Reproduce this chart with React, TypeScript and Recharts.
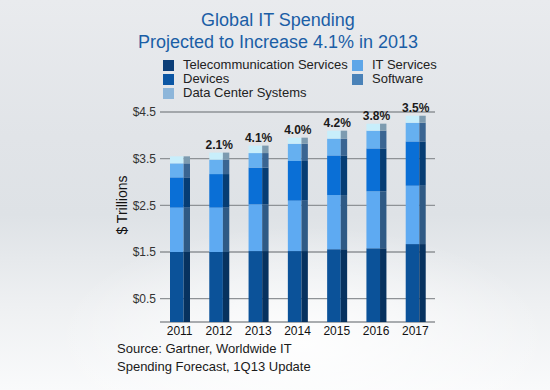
import { BarChart, Bar, XAxis, YAxis, CartesianGrid, Legend, LabelList } from "recharts";

// values in $ trillions
const years = ["2011", "2012", "2013", "2014", "2015", "2016", "2017"];
const telecom = [1.5, 1.5, 1.52, 1.52, 1.56, 1.58, 1.67];
const itServices = [0.95, 0.95, 1.0, 1.08, 1.16, 1.22, 1.25];
const devices = [0.65, 0.72, 0.79, 0.85, 0.85, 0.92, 0.95];
const software = [0.3, 0.31, 0.31, 0.37, 0.36, 0.38, 0.4];
const dataCenter = [0.15, 0.15, 0.16, 0.13, 0.17, 0.15, 0.15];
const growth = ["", "2.1%", "4.1%", "4.0%", "4.2%", "3.8%", "3.5%"];
const yTicks = [0.5, 1.5, 2.5, 3.5, 4.5];

const FONT = "Arial, 'Liberation Sans', sans-serif";

const data = years.map((year, i) => ({
  year,
  telecom: telecom[i],
  itServices: itServices[i],
  devices: devices[i],
  software: software[i],
  dataCenter: dataCenter[i],
  growth: growth[i],
}));

// bar face / side colours, legend swatch colours
const SERIES = [
  { key: "telecom", name: "Telecommunication Services", fill: "#0b5299", side: "#07325f", swatch: "#0c3e78" },
  { key: "itServices", name: "IT Services", fill: "#5eaaf2", side: "#2f5a85", swatch: "#5ea6e8" },
  { key: "devices", name: "Devices", fill: "#0a6fd6", side: "#063d74", swatch: "#0b56a4" },
  { key: "software", name: "Software", fill: "#66b0f0", side: "#3a6592", swatch: "#4a82b8" },
  { key: "dataCenter", name: "Data Center Systems", fill: "#c8eefb", side: "#7d9bb0", swatch: "#8db6da" },
];

const LEGEND_SLOTS: Record<string, { left: number; top: number }> = {
  telecom: { left: 163, top: 0 },
  itServices: { left: 352, top: 0 },
  devices: { left: 163, top: 14 },
  software: { left: 352, top: 14 },
  dataCenter: { left: 163, top: 28 },
};

const bar3d = (side: string) => (props: any) => {
  const { x, y, width, height, fill } = props;
  if (!height || height <= 0) return <g />;
  const front = width * 0.68;
  return (
    <g>
      <rect x={x} y={y} width={front} height={height} fill={fill} />
      <rect x={x + front} y={y} width={width - front} height={height} fill={side} />
    </g>
  );
};

const renderLegend = () => (
  <div style={{ position: "relative", width: 550, height: 44, fontFamily: FONT, fontSize: 13, color: "#222" }}>
    {SERIES.map((s) => {
      const slot = LEGEND_SLOTS[s.key];
      return (
        <div key={s.key} style={{ position: "absolute", left: slot.left, top: slot.top, display: "flex", alignItems: "center", height: 14 }}>
          <span style={{ display: "inline-block", width: 11, height: 11, background: s.swatch, marginRight: 9 }} />
          <span style={{ lineHeight: "14px" }}>{s.name}</span>
        </div>
      );
    })}
  </div>
);

export default function App() {
  return (
    <div
      style={{
        position: "absolute",
        left: 0,
        top: 0,
        width: 550,
        height: 390,
        overflow: "hidden",
        fontFamily: FONT,
        background:
          "radial-gradient(ellipse 45% 30% at 55% 88%, rgba(255,255,255,0.9) 0%, rgba(255,255,255,0) 100%), linear-gradient(180deg, #e9ebee 0%, #e1e4e8 35%, #dee2e6 55%, #eef0f2 78%, #f9fafb 100%)",
      }}
    >
      <div style={{ position: "absolute", left: 0, top: 9, width: 556, textAlign: "center", color: "#1b5ea6", fontSize: 18, lineHeight: "22px" }}>
        Global IT Spending
        <br />
        Projected to Increase 4.1% in 2013
      </div>
      <BarChart
        width={550}
        height={390}
        data={data}
        margin={{ top: 112, right: 115, bottom: 38, left: 100 }}
        style={{ position: "absolute", left: 0, top: 0 }}
      >
        <CartesianGrid vertical={false} stroke="#8e9296" strokeWidth={1.3} />
        <XAxis
          dataKey="year"
          axisLine={false}
          tickLine={false}
          tickSize={0}
          tickMargin={4}
          height={30}
          tick={{ fontSize: 12, fill: "#111", fontFamily: FONT }}
        />
        <YAxis
          width={60}
          domain={[0, 4.5]}
          ticks={yTicks}
          axisLine={false}
          tickLine={false}
          tickSize={0}
          tickMargin={4}
          tickFormatter={(v: number) => `$${v.toFixed(1)}`}
          tick={{ fontSize: 12, fill: "#333", fontFamily: FONT }}
          label={{
            value: "$ Trillions",
            content: (p: any) => (
              <text
                x={p.viewBox.x + 22}
                y={p.viewBox.y + p.viewBox.height / 2 - 12}
                transform={`rotate(-90, ${p.viewBox.x + 22}, ${p.viewBox.y + p.viewBox.height / 2 - 12})`}
                textAnchor="middle"
                dominantBaseline="central"
                fontSize={14}
                fill="#111"
                fontFamily={FONT}
              >
                $ Trillions
              </text>
            ),
          }}
        />
        <Legend
          layout="horizontal"
          verticalAlign="middle"
          align="center"
          content={renderLegend}
          wrapperStyle={{ left: 0, top: 58, width: 550 }}
        />
        {SERIES.map((s, i) => (
          <Bar
            key={s.key}
            dataKey={s.key}
            name={s.name}
            stackId="it"
            fill={s.fill}
            barSize={20}
            shape={bar3d(s.side)}
            isAnimationActive={false}
          >
            {i === SERIES.length - 1 && (
              <LabelList dataKey="growth" position="top" offset={4} fontSize={12} fontWeight="bold" fill="#1a1a1a" fontFamily={FONT} />
            )}
          </Bar>
        ))}
      </BarChart>
      <div style={{ position: "absolute", left: 117, top: 340, fontSize: 13, lineHeight: "18px", color: "#1a1a1a" }}>
        Source: Gartner, Worldwide IT
        <br />
        Spending Forecast, 1Q13 Update
      </div>
    </div>
  );
}
